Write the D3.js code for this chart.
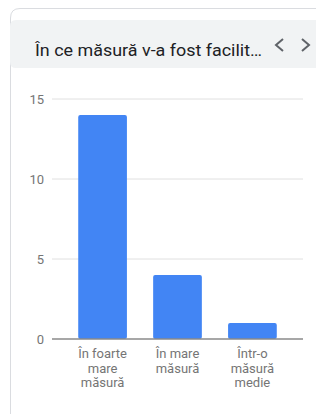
<!DOCTYPE html>
<html>
<head>
<meta charset="utf-8">
<script src="https://cdn.jsdelivr.net/npm/d3@7"></script>
<style>
  html, body { margin: 0; padding: 0; background: #fff; }
  svg { display: block; font-family: Roboto, "Noto Sans", sans-serif; }
</style>
</head>
<body>
<svg id="chart" width="316" height="414"></svg>
<script>
const title = 'În ce măsură v-a fost facilit…'
const categories = [['În foarte', 'mare', 'măsură'], ['În mare', 'măsură'], ['Într-o', 'măsură', 'medie']]
const values = [14, 4, 1]
const yTicks = [0, 5, 10, 15]

const svg = d3.select('#chart')

// card outline (only top + left visible in the crop)
svg.append('path')
  .attr('d', 'M10.5,414 L10.5,18 Q10.5,8.5 20,8.5 L316,8.5')
  .attr('fill', 'none')
  .attr('stroke', '#dadce0')
  .attr('stroke-width', 1)

// header strip
svg.append('path')
  .attr('d', 'M10,26 Q10,20 16,20 L316,20 L316,68 L16,68 Q10,68 10,62 Z')
  .attr('fill', '#f1f3f4')

const t = svg.append('text')
  .attr('x', 35)
  .attr('y', 56)
  .attr('font-size', '17px')
  .attr('fill', '#202124')
  .text(title)
// stretch to the width seen in the reference
t.attr('textLength', 227).attr('lengthAdjust', 'spacingAndGlyphs')

const chev = svg.append('g').attr('stroke', '#5f6368').attr('stroke-width', 2).attr('fill', 'none')
chev.append('path').attr('d', 'M283,39 L276,45 L283,51')
chev.append('path').attr('d', 'M302,39 L309,45 L302,51')

const y = d3.scaleLinear().domain([0, 15]).range([339, 99])
const x = d3.scaleBand().domain(d3.range(values.length)).range([52, 303]).padding(0.35)

// gridlines
svg.append('g')
  .selectAll('line')
  .data(yTicks.filter(d => d !== 0))
  .join('line')
  .attr('x1', 52).attr('x2', 303)
  .attr('y1', d => y(d)).attr('y2', d => y(d))
  .attr('stroke', '#e0e0e0')
  .attr('stroke-width', 1)

svg.append('g')
  .selectAll('text')
  .data(yTicks)
  .join('text')
  .attr('x', 44)
  .attr('y', d => y(d) + 4.5)
  .attr('text-anchor', 'end')
  .attr('font-size', '13px')
  .attr('fill', '#757575')
  .text(d => d)

svg.append('g')
  .selectAll('rect')
  .data(values)
  .join('rect')
  .attr('x', (d, i) => x(i))
  .attr('y', d => y(d))
  .attr('width', x.bandwidth())
  .attr('height', d => y(0) - y(d))
  .attr('rx', 2)
  .attr('fill', '#4285f4')

svg.append('line')
  .attr('x1', 52).attr('x2', 303)
  .attr('y1', y(0)).attr('y2', y(0))
  .attr('stroke', '#8a8a8a')
  .attr('stroke-width', 1.5)

const labels = svg.append('g')
  .selectAll('text')
  .data(categories)
  .join('text')
  .attr('text-anchor', 'middle')
  .attr('font-size', '13px')
  .attr('fill', '#757575')

labels.each(function (lines, i) {
  d3.select(this).selectAll('tspan')
    .data(lines)
    .join('tspan')
    .attr('x', x(i) + x.bandwidth() / 2)
    .attr('y', (d, j) => 358 + j * 14.5)
    .text(d => d)
})
</script>
</body>
</html>
